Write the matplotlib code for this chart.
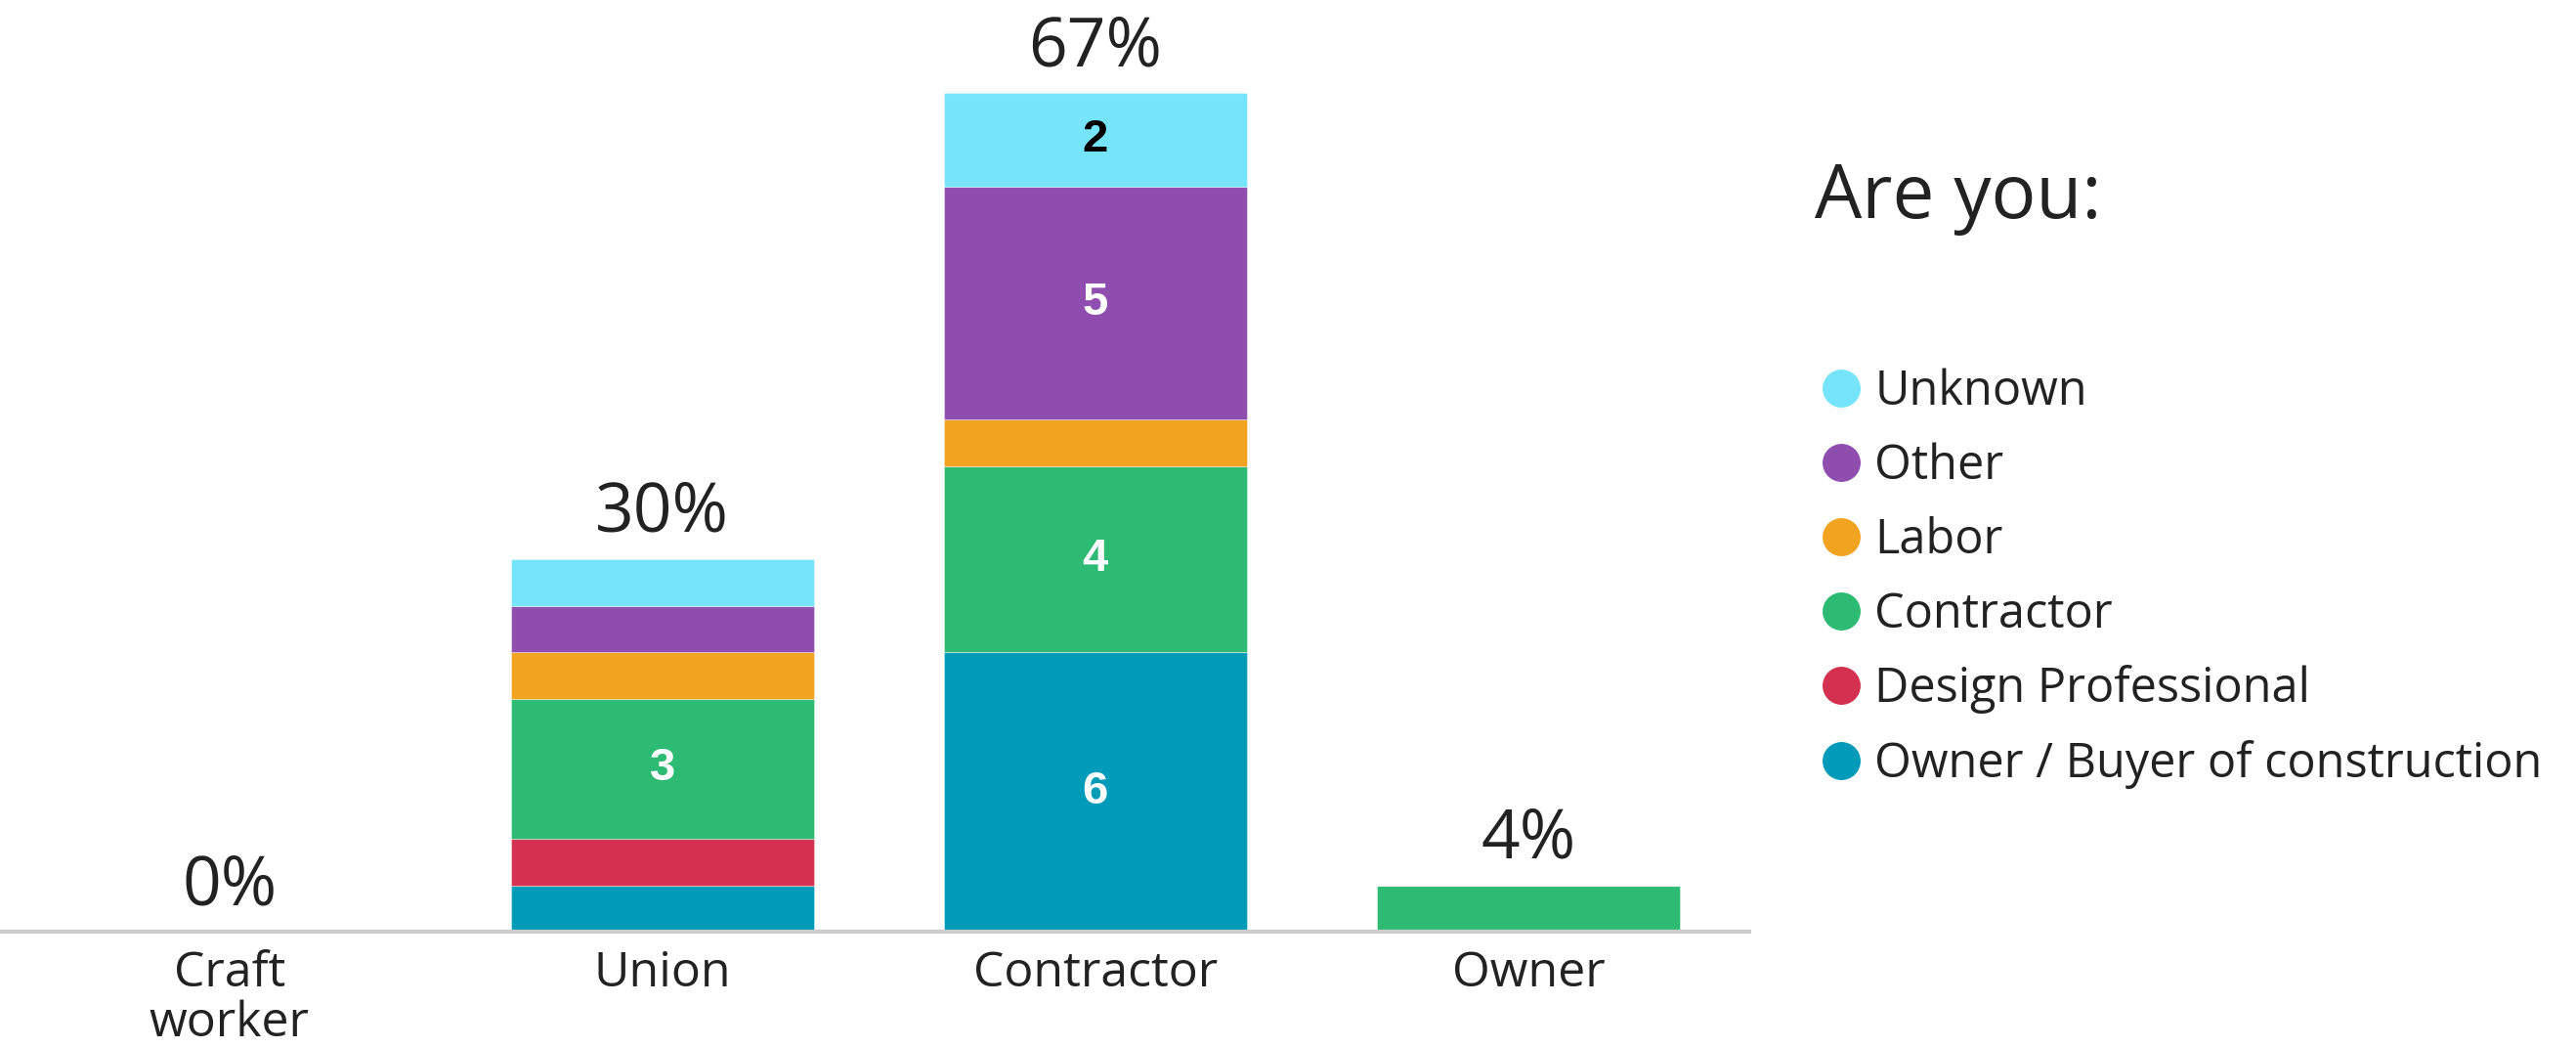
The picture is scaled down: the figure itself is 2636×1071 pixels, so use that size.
import matplotlib
matplotlib.use("Agg")
import matplotlib.pyplot as plt
from matplotlib.lines import Line2D
import numpy as np

categories = ["Craft\nworker", "Union", "Contractor", "Owner"]
series_names = ["Owner / Buyer of construction", "Design Professional", "Contractor",
                "Labor", "Other", "Unknown"]
owner_buyer = [0, 1, 6, 0]
design_prof = [0, 1, 0, 0]
contractor = [0, 3, 4, 1]
labor = [0, 1, 1, 0]
other = [0, 1, 5, 0]
unknown = [0, 1, 2, 0]
pct_labels = ["0%", "30%", "67%", "4%"]
colors = ["#009BB8", "#D3314F", "#2DBA72", "#F2A31F", "#8E4DAF", "#76E5FC"]
label_colors = ["white", "white", "white", "white", "white", "black"]

series = [owner_buyer, design_prof, contractor, labor, other, unknown]

fig = plt.figure(figsize=(26.36, 10.71), dpi=100)
ax = fig.add_axes([0.0, 0.110, 0.679, 0.890])
font = "Open Sans"

x = np.arange(len(categories))
bottom = np.zeros(len(categories))
for vals, c, lc in zip(series, colors, label_colors):
    vals = np.array(vals, dtype=float)
    ax.bar(x, vals, bottom=bottom, width=0.70, color=c,
           edgecolor=(1, 1, 1, 0.35), linewidth=0.8)
    for xi, v, b in zip(x, vals, bottom):
        if v >= 2:
            ax.text(xi, b + v / 2, f"{int(v)}", ha="center", va="center",
                    color=lc, fontsize=34, fontweight="bold", family="Liberation Sans")
    bottom += vals

for xi, tot, lab in zip(x, bottom, pct_labels):
    ax.annotate(lab, (xi, tot), xytext=(0, 8), textcoords="offset points",
                ha="center", va="bottom", fontsize=50, color="#222222", family=font)

ax.set_xlim(-0.53, 3.51)
ax.set_ylim(0, 20)
ax.set_xticks(x)
ax.set_xticklabels(categories, fontsize=36, color="#222222", family=font, linespacing=1.05)
ax.tick_params(axis="x", length=0, pad=13)
ax.set_yticks([])
for s in ["top", "right", "left"]:
    ax.spines[s].set_visible(False)
ax.spines["bottom"].set_color("#CCCCCC")
ax.spines["bottom"].set_linewidth(3)

fig.text(0.7045, 0.811, "Are you:", fontsize=55, color="#222222", family=font,
         ha="left", va="center")

handles = [Line2D([], [], linestyle="none", marker="o", markersize=27,
                  markerfacecolor=c, markeredgecolor=c) for c in colors[::-1]]
fig.legend(handles, series_names[::-1], loc="upper left",
           bbox_to_anchor=(0.689, 0.667), frameon=False,
           handletextpad=-0.3, labelspacing=0.545, borderaxespad=0,
           prop={"family": font, "size": 35}, labelcolor="#222222")

fig.savefig("out.png", dpi=100, facecolor="white")
